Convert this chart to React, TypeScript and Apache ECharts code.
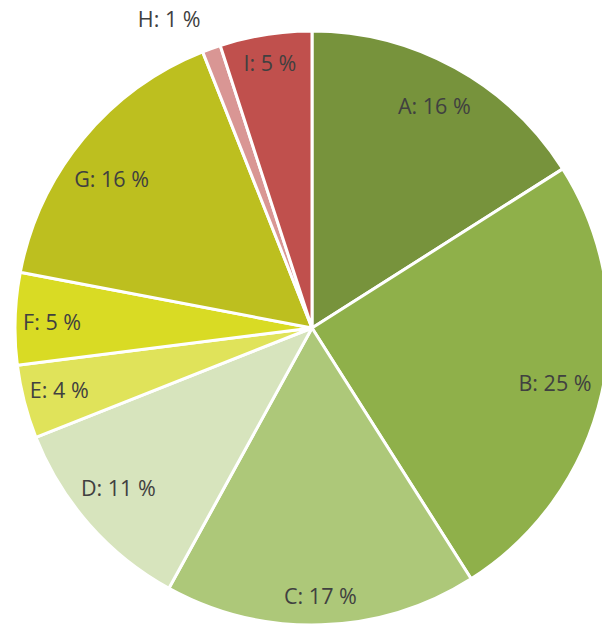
import React, { useEffect, useRef } from "react";
import * as echarts from "echarts";

const categories = ["A", "B", "C", "D", "E", "F", "G", "H", "I"];
const values = [16, 25, 17, 11, 4, 5, 16, 1, 5];
const colors = ["#77933C", "#8FB04A", "#ADC879", "#D7E4BD", "#E0E35A", "#D9DB24", "#BDBF1F", "#D99694", "#C0504D"];
// label placement: distance from the pie centre and angular nudge (degrees, clockwise)
const labelDistance = [251, 246, 265, 248, 257, 257, 247, 0, 266];
const labelNudge = [0, 0, 0, 1.9, 0.8, -0.4, -2.9, 0, 0];

const CENTER = [312, 328];
const R = 297;

export default function App() {
  const ref = useRef<HTMLDivElement>(null);
  useEffect(() => {
    if (!ref.current) return;
    const chart = echarts.init(ref.current, undefined, { renderer: "svg" });
    const font = { fontFamily: "Open Sans", fontSize: 21.5, color: "#404040" };
    const labelSeries = categories.map((cat, k) => {
      const isH = cat === "H";
      const d = labelDistance[k];
      return {
        type: "pie",
        center: CENTER,
        radius: isH ? [0, R] : [2 * d - R, R],
        startAngle: 90 - labelNudge[k],
        clockwise: true,
        avoidLabelOverlap: false,
        silent: true,
        itemStyle: { color: "rgba(0,0,0,0)", borderWidth: 0 },
        labelLine: { show: false },
        data: categories.map((c, i) => ({
          name: c,
          value: values[i],
          label:
            i === k
              ? isH
                ? { show: true, position: "outside", distanceToLabelLine: 0, formatter: "{b}: {c} %", ...font }
                : { show: true, position: "inside", formatter: "{b}: {c} %", ...font }
              : { show: false },
          labelLine: isH && i === k ? { show: false, length: 32, length2: 0 } : { show: false },
        })),
      };
    });
    chart.setOption({
      animation: false,
      backgroundColor: "#ffffff",
      series: [
        {
          type: "pie",
          center: CENTER,
          radius: [0, R],
          startAngle: 90,
          clockwise: true,
          avoidLabelOverlap: false,
          silent: true,
          label: { show: false },
          labelLine: { show: false },
          itemStyle: { borderColor: "#ffffff", borderWidth: 3 },
          data: categories.map((c, i) => ({ name: c, value: values[i], itemStyle: { color: colors[i] } })),
        },
        ...labelSeries,
      ],
    });
    return () => chart.dispose();
  }, []);
  return <div ref={ref} style={{ position: "fixed", left: 0, top: 0, width: 602, height: 624 }} />;
}
